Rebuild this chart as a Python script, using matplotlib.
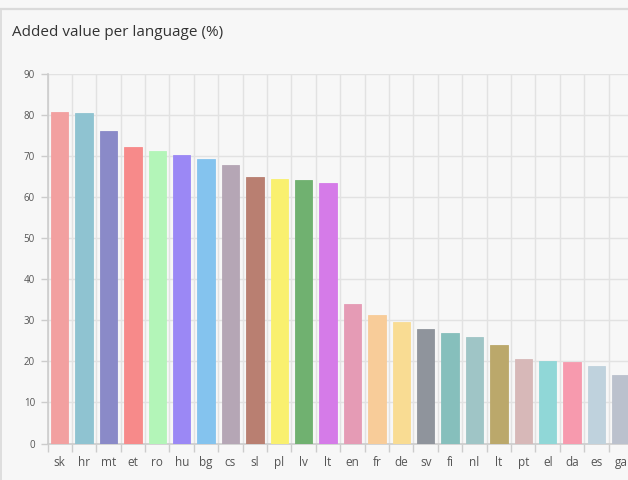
import matplotlib
matplotlib.use("Agg")
import matplotlib.pyplot as plt
import numpy as np

plt.rcParams['font.family'] = ['Open Sans', 'DejaVu Sans']

languages = ["sk", "hr", "mt", "et", "ro", "hu", "bg", "cs", "sl", "pl", "lv", "lt",
             "en", "fr", "de", "sv", "fi", "nl", "lt", "pt", "el", "da", "es", "ga"]
values = [80.7, 80.5, 76.0, 72.3, 71.3, 70.3, 69.3, 67.9, 65.0, 64.5, 64.2, 63.4,
          33.9, 31.3, 29.7, 27.9, 26.8, 26.0, 24.0, 20.6, 20.0, 19.8, 18.8, 16.7]
colors = ["#f2a0a0", "#8fc3d1", "#8a8ac8", "#f78a8a", "#b3f5b8", "#9b88f5",
          "#84c3ee", "#b5a6b5", "#b97f71", "#f9f06f", "#70b170", "#d57be8",
          "#e59bb5", "#f8cc99", "#f9dc93", "#8f949c", "#86bfbc", "#9fc5c6",
          "#bba86b", "#d7b8b8", "#90d7d7", "#f79aae", "#bfd2dd", "#bbc1cd"]
yticks = [0, 10, 20, 30, 40, 50, 60, 70, 80, 90]
title = "Added value per language (%)"

W, H = 628, 480
fig = plt.figure(figsize=(W / 100, H / 100), dpi=100)
fig.patch.set_facecolor("#f7f7f7")

# panel border
fig.add_artist(plt.Line2D([0, 1], [1 - 8.5 / H, 1 - 8.5 / H], transform=fig.transFigure,
                          color="#dadada", lw=1.6))
fig.add_artist(plt.Line2D([1.0 / W, 1.0 / W], [0, 1 - 8.5 / H], transform=fig.transFigure,
                          color="#dadada", lw=1.2))

left = 47.5 / W
bottom = (480 - 443.5) / H
height = (443.5 - 74) / H
width = 24 * 24.4 / W
ax = fig.add_axes([left, bottom, width, height])
ax.set_facecolor("#f7f7f7")

x = np.arange(len(languages))
ax.bar(x, values, width=0.71, color=colors, edgecolor=colors, linewidth=0.6, zorder=3)

ax.set_xlim(-0.5, len(languages) - 0.5)
ax.set_ylim(0, 90)
ax.set_yticks(yticks)
ax.set_yticklabels([str(v) for v in yticks], fontsize=7, color="#555555")
ax.set_xticks(x)
ax.set_xticklabels(languages, fontsize=8.5, color="#555555")
ax.set_xticks(np.arange(-0.5, len(languages), 1.0), minor=True)

ax.tick_params(axis="x", which="major", length=0, pad=9)
ax.tick_params(axis="x", which="minor", length=6, color="#cccccc", width=1)
ax.tick_params(axis="y", which="major", length=5, color="#cccccc", width=1, pad=4)

ax.grid(axis="y", which="major", color="#e2e2e2", lw=1, zorder=0)
ax.grid(axis="x", which="minor", color="#e2e2e2", lw=1, zorder=0)

for s in ["top", "right"]:
    ax.spines[s].set_visible(False)
ax.spines["left"].set_color("#cccccc")
ax.spines["bottom"].set_color("#cccccc")
ax.spines["left"].set_linewidth(1.2)
ax.spines["bottom"].set_linewidth(1.2)

fig.text(12 / W, 1 - 32 / H, title, fontsize=11, color="#333333", va="center", ha="left")

fig.savefig("out.png", dpi=100, facecolor=fig.get_facecolor())
